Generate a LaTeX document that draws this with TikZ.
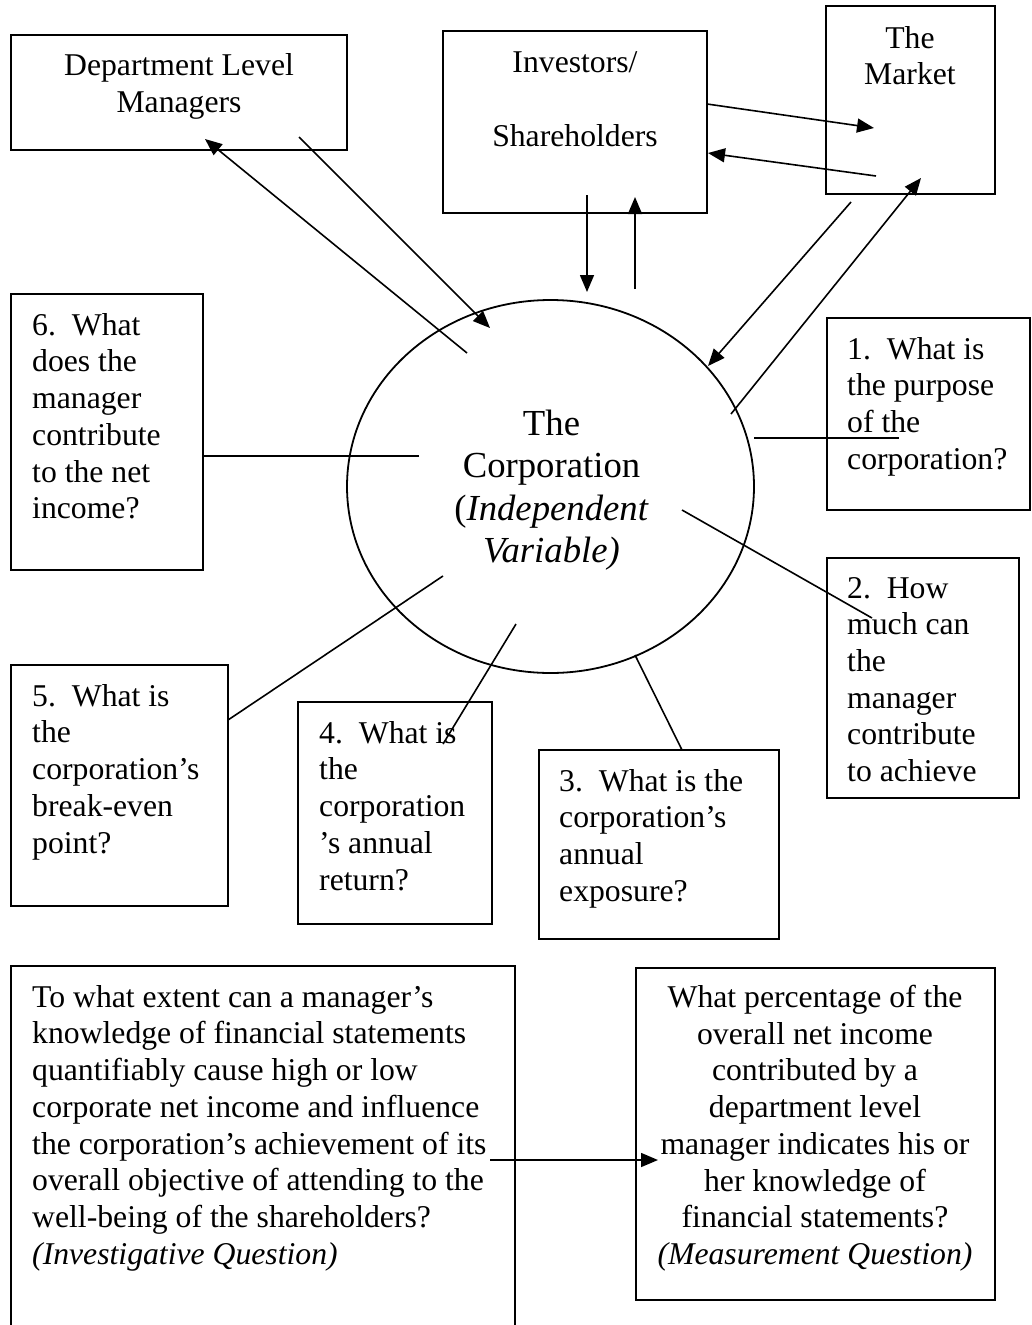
\documentclass[tikz,border=0pt]{standalone}
\usepackage{fontspec}
\setmainfont{Liberation Serif}
\usetikzlibrary{arrows.meta,shapes.geometric}
\tikzset{
  box/.style={draw, line width=2pt, rectangle, anchor=north west, inner sep=0pt, outer sep=0pt},
  qtext/.style={anchor=north west, inner sep=0pt, align=left, font=\fontsize{31.7}{36.7}\selectfont},
  ctext/.style={anchor=north, inner sep=0pt, align=center, font=\fontsize{31.7}{36.7}\selectfont},
  link/.style={line width=1.6pt},
  arr/.style={link, -{Triangle[length=17pt,width=14pt]}},
}
\begin{document}
\begin{tikzpicture}[x=1pt,y=-1pt]
\useasboundingbox (0,0) rectangle (1032,1325);

% boxes
\node[box, minimum width=336pt, minimum height=115pt] (dept) at (11,35) {};
\node[box, minimum width=264pt, minimum height=182pt] (inv) at (443,31) {};
\node[box, minimum width=169pt, minimum height=188pt] (mkt) at (826,6) {};
\node[box, minimum width=203pt, minimum height=192pt] (q1) at (827,318) {};
\node[box, minimum width=192pt, minimum height=240pt] (q2) at (827,558) {};
\node[box, minimum width=240pt, minimum height=189pt] (q3) at (539,750) {};
\node[box, minimum width=194pt, minimum height=222pt] (q4) at (298,702) {};
\node[box, minimum width=217pt, minimum height=241pt] (q5) at (11,665) {};
\node[box, minimum width=192pt, minimum height=276pt] (q6) at (11,294) {};
\node[box, minimum width=504pt, minimum height=420pt] (inq) at (11,966) {};
\node[box, minimum width=359pt, minimum height=332pt] (mq) at (636,968) {};

\node[draw, ellipse, line width=1.8pt, minimum width=407pt, minimum height=373pt, inner sep=0pt] (corp) at (550.5,486.5) {};

% texts
\node[ctext] (deptt) at (179,53.5) {Department Level\\Managers};
\node[ctext] (invt) at (575,51.5) {Investors/\\[37.3pt]Shareholders};
\node[ctext] (mktt) at (910,26) {The\\Market};
\node[anchor=north, inner sep=0pt, align=center, font=\fontsize{36.7}{42.3}\selectfont] (corpt) at (551.5,410)
  {The\\Corporation\\(\textit{Independent}\\\textit{Variable)}};
\node[qtext] (q1t) at (847,337) {1.\ \ What is\\the purpose\\of the\\corporation?};
\node[qtext] (q2t) at (847,577) {2.\ \ How\\much can\\the\\manager\\contribute\\to achieve};
\node[qtext] (q3t) at (559,769) {3.\ \ What is the\\corporation’s\\annual\\exposure?};
\node[qtext] (q4t) at (319,721) {4.\ \ What is\\the\\corporation\\’s annual\\return?};
\node[qtext] (q5t) at (32,684) {5.\ \ What is\\the\\corporation’s\\break-even\\point?};
\node[qtext] (q6t) at (32,313) {6.\ \ What\\does the\\manager\\contribute\\to the net\\income?};
\node[qtext] (inqt) at (32,985) {To what extent can a manager’s\\knowledge of financial statements\\quantifiably cause high or low\\corporate net income and influence\\the corporation’s achievement of its\\overall objective of attending to the\\well-being of the shareholders?\\\textit{(Investigative Question)}};
\node[ctext] (mqt) at (815,985) {What percentage of the\\overall net income\\contributed by a\\department level\\manager indicates his or\\her knowledge of\\financial statements?\\\textit{(Measurement Question)}};

% connector end points
\coordinate (dA) at (467,353); \coordinate (dAe) at (205,139);
\coordinate (dB) at (299,137); \coordinate (dBe) at (490,328);
\coordinate (imA) at (707,104); \coordinate (imAe) at (874,128);
\coordinate (miA) at (876,176); \coordinate (miAe) at (708,153);
\coordinate (icA) at (587,195); \coordinate (icAe) at (587,292);
\coordinate (ciA) at (635,289); \coordinate (ciAe) at (635,197);
\coordinate (mcA) at (851,202); \coordinate (mcAe) at (708,366);
\coordinate (cmA) at (731,414); \coordinate (cmAe) at (921,178);
\coordinate (l1a) at (754,438); \coordinate (l1b) at (899,438);
\coordinate (l2a) at (682,510); \coordinate (l2b) at (872,618);
\coordinate (l3a) at (635,655); \coordinate (l3b) at (682,750);
\coordinate (l4a) at (516,624); \coordinate (l4b) at (443,744);
\coordinate (l5a) at (443,576); \coordinate (l5b) at (228,720);
\coordinate (l6a) at (419,456); \coordinate (l6b) at (203,456);
\coordinate (bA) at (490,1160); \coordinate (bAe) at (658,1160);

% arrows
\draw[arr] (dA) -- (dAe);
\draw[arr] (dB) -- (dBe);
\draw[arr] (imA) -- (imAe);
\draw[arr] (miA) -- (miAe);
\draw[arr] (icA) -- (icAe);
\draw[arr] (ciA) -- (ciAe);
\draw[arr] (mcA) -- (mcAe);
\draw[arr] (cmA) -- (cmAe);
\draw[arr] (bA) -- (bAe);

% plain links
\draw[link] (l1a) -- (l1b);
\draw[link] (l2a) -- (l2b);
\draw[link] (l3a) -- (l3b);
\draw[link] (l4a) -- (l4b);
\draw[link] (l5a) -- (l5b);
\draw[link] (l6a) -- (l6b);
\end{tikzpicture}
\end{document}
